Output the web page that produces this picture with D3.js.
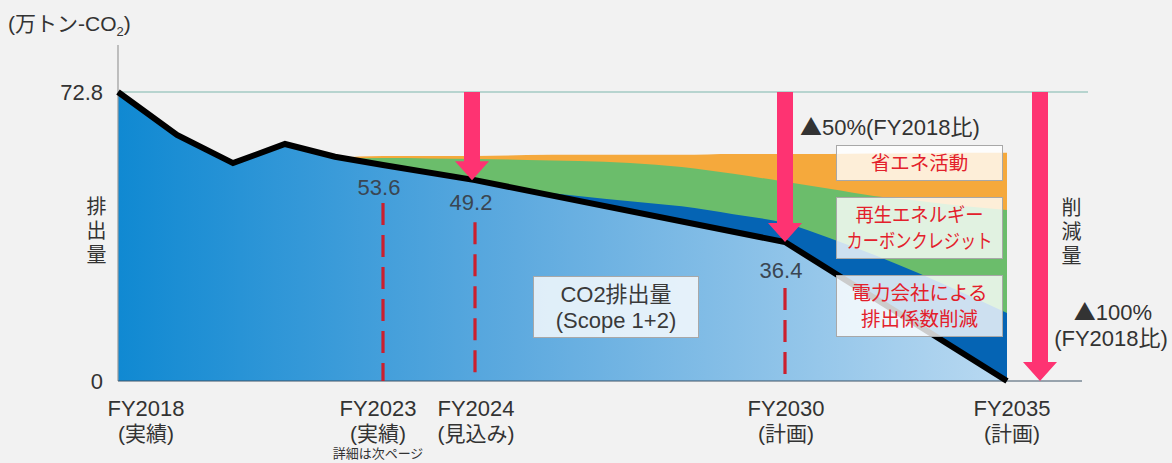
<!DOCTYPE html>
<html><head><meta charset="utf-8">
<script src="https://cdn.jsdelivr.net/npm/d3@7"></script>
<style>
body{margin:0;background:#f2f2f2;}
svg{display:block;}
text{font-family:"Liberation Sans","Noto Sans CJK JP",sans-serif;}
</style>
</head><body>
<svg id="c" width="1172" height="463"></svg>
<script>
// ---- data ----
const lineYears = [2018, 2019, 2020, 2021, 2022, 2023, 2024, 2030, 2035];
const emissions = [72.8, 62.0, 54.9, 59.7, 56.5, 54.4, 50.6, 35.0, 0];

const stackYears = [2022, 2023, 2024, 2025, 2026, 2027, 2028, 2029, 2030, 2031, 2032, 2033, 2034, 2035];
const energySavingTop = [56.2, 56.7, 56.7, 56.9, 57.0, 57.0, 57.0, 57.2, 57.2, 57.2, 57.3, 57.4, 57.5, 57.5];
const renewableTop    = [56.0, 56.2, 55.9, 55.7, 55.4, 54.9, 53.9, 52.2, 50.2, 48.4, 46.6, 45.4, 44.1, 43.1];
const gridFactorTop   = [55.0, 54.0, 50.4, 48.2, 46.6, 45.3, 44.0, 42.0, 39.8, 36.0, 31.8, 27.2, 22.2, 17.1];

const markYears  = [2023, 2024, 2030];
const markLabels = ["53.6", "49.2", "36.4"];

const tickYears = [2018, 2023, 2024, 2030, 2035];
const tickLine1 = ["FY2018", "FY2023", "FY2024", "FY2030", "FY2035"];
const tickLine2 = ["(実績)", "(実績)", "(見込み)", "(計画)", "(計画)"];
const tickNote  = ["", "詳細は次ページ", "", "", ""];

const yTickValues = [0, 72.8];
const arrowYears = [2024, 2030, 2035];
const arrowValues = [50.6, 35.0, 0];

// ---- scales ----
const x = d3.scaleLinear()
  .domain([2018, 2019, 2020, 2021, 2022, 2023, 2024, 2030, 2035])
  .range([118, 177, 233, 285, 335, 383, 475, 785, 1007]);
const y = d3.scaleLinear().domain([0, 72.8]).range([381, 92]);

const svg = d3.select("#c");
svg.append("rect").attr("width",1172).attr("height",463).attr("fill","#f2f2f2");

const defs = svg.append("defs");
const grad = defs.append("linearGradient").attr("id","emGrad")
  .attr("gradientUnits","userSpaceOnUse").attr("x1",118).attr("x2",1007).attr("y1",0).attr("y2",0);
grad.append("stop").attr("offset",0).attr("stop-color","#1089d2");
grad.append("stop").attr("offset",0.45).attr("stop-color","#5eaadf");
grad.append("stop").attr("offset",1).attr("stop-color","#b9d9f1");

// stacked reduction areas (painter's order)
const mkArea = arr => d3.area()
  .x((d,i)=>x(stackYears[i])).y0(y(0)).y1((d,i)=>y(arr[i]))
  .curve(d3.curveMonotoneX)(arr);
svg.append("path").attr("d", mkArea(energySavingTop)).attr("fill","#f5a93c");
svg.append("path").attr("d", mkArea(renewableTop)).attr("fill","#6bbd6b");
svg.append("path").attr("d", mkArea(gridFactorTop)).attr("fill","#0564b4");

// emissions area
const emArea = d3.area().x((d,i)=>x(lineYears[i])).y0(y(0)).y1(d=>y(d));
svg.append("path").attr("d", emArea(emissions)).attr("fill","url(#emGrad)");

// reference line at 72.8
svg.append("line").attr("x1",x(2018)).attr("x2",1088).attr("y1",y(72.8)).attr("y2",y(72.8))
  .attr("stroke","#7db5ac").attr("stroke-width",1.2);

// axes
svg.append("line").attr("x1",x(2018)).attr("x2",x(2018)).attr("y1",45).attr("y2",y(0))
  .attr("stroke","#9a9a9a").attr("stroke-width",1.2);
svg.append("line").attr("x1",x(2018)).attr("x2",1082).attr("y1",y(0)).attr("y2",y(0))
  .attr("stroke","#3f5568").attr("stroke-width",1.2);

const yAxis = svg.append("g").attr("transform",`translate(${x(2018)},0)`)
  .call(d3.axisLeft(y).tickValues(yTickValues).tickSize(0).tickPadding(15)
    .tickFormat(d=>d===0?"0":d3.format(".1f")(d)));
yAxis.select(".domain").remove();
yAxis.selectAll("text").attr("font-size",22).attr("fill","#333")
  .style("font-family",'"Liberation Sans","Noto Sans CJK JP",sans-serif');

// emissions line
const line = d3.line().x((d,i)=>x(lineYears[i])).y(d=>y(d));
svg.append("path").attr("d", line(emissions)).attr("fill","none")
  .attr("stroke","#000").attr("stroke-width",6).attr("stroke-linejoin","miter");

// dashed markers
const labelOffsets = [30, 30, 36];
const dashOffsets = [38, 42, 46];
const valOf = yr => emissions[lineYears.indexOf(yr)];
markYears.forEach((yr,i)=>{
  const cx = x(yr), ly = y(valOf(yr));
  svg.append("text").attr("x",cx-4).attr("y",ly+labelOffsets[i]).attr("text-anchor","middle")
    .attr("font-size",22).attr("fill","#3a4652").text(markLabels[i]);
  svg.append("line").attr("x1",cx).attr("x2",cx).attr("y1",ly+dashOffsets[i]).attr("y2",y(0))
    .attr("stroke","#cc1f2e").attr("stroke-width",3.2).attr("stroke-dasharray","22,10");
});

// arrows
arrowYears.forEach((yr,i)=>{
  const cx = x(yr) + (i===2 ? 33 : (i===0 ? -3 : 0));
  const top = y(72.8), tip = y(arrowValues[i]);
  const sw = 8, hw = 17, hl = 19;
  const p = d3.path();
  p.moveTo(cx-sw, top); p.lineTo(cx+sw, top); p.lineTo(cx+sw, tip-hl);
  p.lineTo(cx+hw, tip-hl); p.lineTo(cx, tip); p.lineTo(cx-hw, tip-hl);
  p.lineTo(cx-sw, tip-hl); p.closePath();
  svg.append("path").attr("d", p.toString()).attr("fill","#fe3372");
});

// label boxes
function box(x0, y0, w, h, lines, color, size, fits){
  svg.append("rect").attr("x",x0).attr("y",y0).attr("width",w).attr("height",h)
    .attr("fill","#ffffff").attr("fill-opacity",0.8).attr("stroke","#a8a8a8").attr("stroke-width",1);
  const n = lines.length, lh = 26;
  const t = svg.append("text").attr("text-anchor","middle").attr("font-size",size).attr("fill",color);
  lines.forEach((s,j)=>{
    const ts = t.append("tspan").attr("x",x0+w/2).attr("y",y0+h/2+(j-(n-1)/2)*lh).attr("dy","0.36em").text(s);
    if (fits && fits[j]) ts.attr("textLength",fits[j]).attr("lengthAdjust","spacingAndGlyphs");
  });
}
box(836.5, 145.5, 166, 35, ["省エネ活動"], "#e3202b", 19.5);
box(836.5, 197.5, 166, 61, ["再生エネルギー","カーボンクレジット"], "#e3202b", 19.5, [128, 146]);
box(836.5, 275.5, 166, 61, ["電力会社による","排出係数削減"], "#e3202b", 19.5, [136, 0]);
box(533.5, 276.5, 165, 61, ["CO2排出量","(Scope 1+2)"], "#3a3a3a", 22);

// x tick labels
tickYears.forEach((yr,i)=>{
  const cx = x(yr) + (i===0 ? 28 : (i===1 ? -5 : (i===4 ? 5 : 1)));
  const t = svg.append("text").attr("text-anchor","middle").attr("fill","#333");
  t.append("tspan").attr("x",cx).attr("y",416).attr("font-size",22).text(tickLine1[i]);
  t.append("tspan").attr("x",cx).attr("y",441).attr("font-size",21).text(tickLine2[i]);
  if (tickNote[i]) t.append("tspan").attr("x",cx).attr("y",458).attr("font-size",13).text(tickNote[i]);
});

// unit label
const unit = svg.append("text").attr("x",8).attr("y",31).attr("font-size",21).attr("fill","#333");
unit.append("tspan").text("(万トン-CO");
unit.append("tspan").attr("font-size",13).attr("dy",5).text("2");
unit.append("tspan").attr("dy",-5).text(")");

// vertical titles
function vtext(cx, y0, str){
  svg.append("text").attr("x",cx).attr("y",y0).attr("font-size",20).attr("fill","#333")
    .style("writing-mode","vertical-rl").style("letter-spacing","4px").text(str);
}
vtext(95, 196, "排出量");
vtext(1070, 197, "削減量");

// annotations
const tri = '"Noto Sans CJK JP",sans-serif';
const a50 = svg.append("text").attr("x",800).attr("y",135).attr("font-size",22).attr("fill","#333");
a50.append("tspan").style("font-family",tri).text("▲");
a50.append("tspan").text("50%(FY2018比)");
const a100 = svg.append("text").attr("text-anchor","middle").attr("font-size",22).attr("fill","#333");
const t1 = a100.append("tspan").attr("x",1113).attr("y",320);
t1.append("tspan").style("font-family",tri).text("▲");
t1.append("tspan").text("100%");
a100.append("tspan").attr("x",1111).attr("y",346).text("(FY2018比)");
</script>
</body></html>
